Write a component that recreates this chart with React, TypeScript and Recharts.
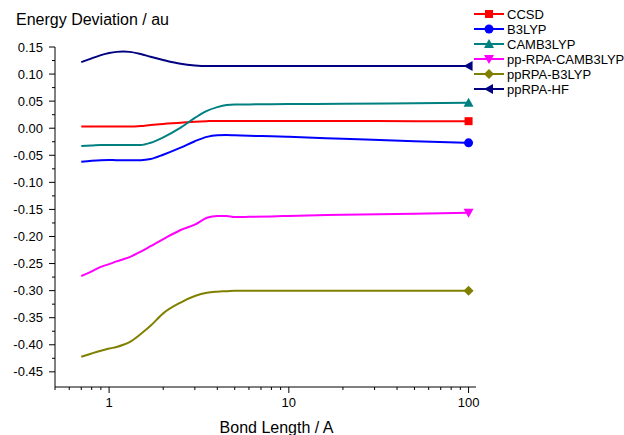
import React from "react";
import { LineChart, Line, XAxis, YAxis, Legend } from "recharts";

// bond length (A), log axis
const bondLength = [0.7, 0.8, 0.9, 1.0, 1.1, 1.2, 1.3, 1.5, 1.7, 2.0, 2.5, 3.0, 3.5, 4.0, 4.5, 5.0, 6.0, 8.0, 10, 20, 50, 100];

// energy deviation (au) per method
const ccsd = [0.003, 0.003, 0.003, 0.003, 0.003, 0.003, 0.003, 0.004, 0.006, 0.008, 0.010, 0.012, 0.013, 0.0135, 0.0135, 0.0135, 0.0135, 0.0135, 0.0135, 0.0133, 0.013, 0.013];
const b3lyp = [-0.062, -0.060, -0.059, -0.0588, -0.059, -0.059, -0.059, -0.059, -0.057, -0.049, -0.036, -0.024, -0.016, -0.013, -0.0125, -0.013, -0.014, -0.015, -0.016, -0.0195, -0.024, -0.027];
const camb3lyp = [-0.033, -0.032, -0.031, -0.031, -0.031, -0.031, -0.031, -0.031, -0.027, -0.017, 0.001, 0.019, 0.032, 0.039, 0.043, 0.044, 0.044, 0.0443, 0.0445, 0.045, 0.046, 0.047];
const ppRpaCamb3lyp = [-0.273, -0.2645, -0.256, -0.251, -0.246, -0.242, -0.238, -0.228, -0.218, -0.205, -0.188, -0.178, -0.1655, -0.162, -0.162, -0.164, -0.1637, -0.163, -0.162, -0.160, -0.158, -0.156];
const ppRpaB3lyp = [-0.422, -0.416, -0.411, -0.407, -0.404, -0.400, -0.395, -0.380, -0.365, -0.342, -0.322, -0.310, -0.304, -0.302, -0.301, -0.300, -0.300, -0.300, -0.300, -0.300, -0.300, -0.300];
const ppRpaHf = [0.122, 0.129, 0.135, 0.139, 0.141, 0.1415, 0.141, 0.137, 0.132, 0.126, 0.119, 0.116, 0.115, 0.115, 0.115, 0.115, 0.115, 0.115, 0.115, 0.115, 0.115, 0.115];

const xTicks = [0.5, 0.6, 0.7, 0.8, 0.9, 1, 2, 3, 4, 5, 6, 7, 8, 9, 10, 20, 30, 40, 50, 60, 70, 80, 90, 100];
const xMajor = [1, 10, 100];
const yTicks = [0.15, 0.125, 0.1, 0.075, 0.05, 0.025, 0, -0.025, -0.05, -0.075, -0.1, -0.125, -0.15, -0.175, -0.2, -0.225, -0.25, -0.275, -0.3, -0.325, -0.35, -0.375, -0.4, -0.425, -0.45];
const yMajor = [0.15, 0.1, 0.05, 0, -0.05, -0.1, -0.15, -0.2, -0.25, -0.3, -0.35, -0.4, -0.45];

type Shape = "square" | "circle" | "up" | "down" | "diamond" | "left";

const series: { key: string; name: string; color: string; shape: Shape; values: number[] }[] = [
  { key: "ccsd", name: "CCSD", color: "#ff0000", shape: "square", values: ccsd },
  { key: "b3lyp", name: "B3LYP", color: "#0000ff", shape: "circle", values: b3lyp },
  { key: "camb3lyp", name: "CAMB3LYP", color: "#008080", shape: "up", values: camb3lyp },
  { key: "ppRpaCamb3lyp", name: "pp-RPA-CAMB3LYP", color: "#ff00ff", shape: "down", values: ppRpaCamb3lyp },
  { key: "ppRpaB3lyp", name: "ppRPA-B3LYP", color: "#808000", shape: "diamond", values: ppRpaB3lyp },
  { key: "ppRpaHf", name: "ppRPA-HF", color: "#000080", shape: "left", values: ppRpaHf },
];

const data = bondLength.map((x, i) => {
  const row: Record<string, number> = { x };
  series.forEach((s) => (row[s.key] = s.values[i]));
  return row;
});

const FONT = "Arial, 'Liberation Sans', sans-serif";

function Marker({ cx, cy, color, shape }: { cx: number; cy: number; color: string; shape: Shape }) {
  const r = 4.5;
  switch (shape) {
    case "square":
      return <rect x={cx - 4} y={cy - 4} width={8} height={8} fill={color} />;
    case "circle":
      return <circle cx={cx} cy={cy} r={r} fill={color} />;
    case "up":
      return <polygon points={`${cx},${cy - 5} ${cx + 5},${cy + 4} ${cx - 5},${cy + 4}`} fill={color} />;
    case "down":
      return <polygon points={`${cx},${cy + 5} ${cx + 5},${cy - 4} ${cx - 5},${cy - 4}`} fill={color} />;
    case "diamond":
      return <polygon points={`${cx},${cy - 5} ${cx + 5},${cy} ${cx},${cy + 5} ${cx - 5},${cy}`} fill={color} />;
    default:
      return <polygon points={`${cx - 5},${cy} ${cx + 4},${cy - 5} ${cx + 4},${cy + 5}`} fill={color} />;
  }
}

function XTick(props: any) {
  const { x, y, payload } = props;
  const major = xMajor.includes(payload.value);
  return (
    <g>
      <line x1={x} x2={x} y1={y} y2={y + (major ? 6 : 3)} stroke="#000" />
      {major && (
        <text x={x} y={y + 20} textAnchor="middle" fontSize={13} fontFamily={FONT} fill="#000">
          {payload.value}
        </text>
      )}
    </g>
  );
}

function YTick(props: any) {
  const { x, y, payload } = props;
  const major = yMajor.some((m) => Math.abs(m - payload.value) < 1e-6);
  return (
    <g>
      <line x1={x} x2={x - (major ? 6 : 3)} y1={y} y2={y} stroke="#000" />
      {major && (
        <text x={x - 12} y={y} dy="0.35em" textAnchor="end" fontSize={13} fontFamily={FONT} fill="#000">
          {payload.value.toFixed(2)}
        </text>
      )}
    </g>
  );
}

function LegendBox() {
  return (
    <svg width={154} height={100} style={{ display: "block" }}>
      {series.map((s, i) => {
        const cy = 14 + i * 15;
        return (
          <g key={s.key}>
            <line x1={4} x2={34} y1={cy} y2={cy} stroke={s.color} strokeWidth={2} />
            <Marker cx={19} cy={cy} color={s.color} shape={s.shape} />
            <text x={37} y={cy} dy="0.35em" fontSize={13} fontFamily={FONT} fill="#000">
              {s.name}
            </text>
          </g>
        );
      })}
    </svg>
  );
}

export default function App() {
  const last = bondLength.length - 1;
  return (
    <div style={{ position: "absolute", left: 0, top: 0, width: 624, height: 435, background: "#fff" }}>
      <LineChart width={624} height={435} data={data} margin={{ top: 47, right: 148, bottom: 0, left: 0 }}>
        <XAxis
          dataKey="x"
          type="number"
          scale="log"
          domain={[0.5, 110]}
          allowDataOverflow
          ticks={xTicks}
          interval={0}
          tick={<XTick />}
          tickLine={false}
          tickSize={0}
          tickMargin={0}
          height={48}
          axisLine={{ stroke: "#000" }}
        />
        <YAxis
          type="number"
          domain={[-0.478, 0.15]}
          allowDataOverflow
          ticks={yTicks}
          interval={0}
          tick={<YTick />}
          tickLine={false}
          tickSize={0}
          tickMargin={0}
          width={55}
          axisLine={{ stroke: "#000" }}
        />
        <Legend
          layout="vertical"
          align="center"
          verticalAlign="middle"
          wrapperStyle={{ left: 470, top: 0, width: 154, height: 100 }}
          content={() => <LegendBox />}
        />
        {series.map((s) => (
          <Line
            key={s.key}
            dataKey={s.key}
            name={s.name}
            type="monotone"
            stroke={s.color}
            strokeWidth={2}
            isAnimationActive={false}
            dot={(p: any) => (
              <g key={`${s.key}-${p.index}`}>
                {p.index === last ? <Marker cx={p.cx} cy={p.cy} color={s.color} shape={s.shape} /> : null}
              </g>
            )}
            activeDot={false}
          />
        ))}
      </LineChart>
      <svg width={624} height={435} style={{ position: "absolute", left: 0, top: 0, pointerEvents: "none" }}>
        <text x={16} y={25} fontSize={16} fontFamily={FONT} fill="#000">
          Energy Deviation / au
        </text>
        <text x={276.5} y={433} textAnchor="middle" fontSize={16} fontFamily={FONT} fill="#000">
          Bond Length / A
        </text>
      </svg>
    </div>
  );
}
